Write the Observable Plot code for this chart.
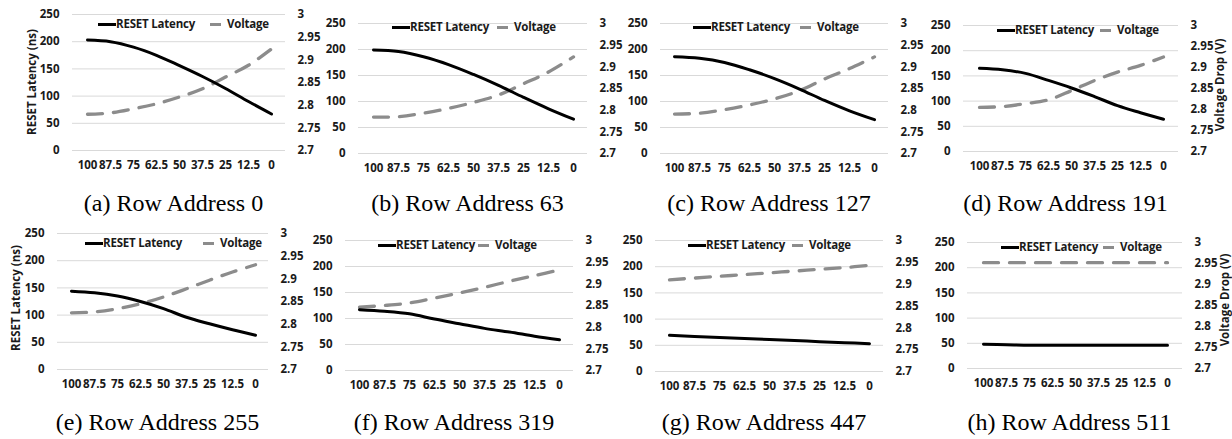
<!DOCTYPE html>
<html><head><meta charset="utf-8">
<script src="https://cdn.jsdelivr.net/npm/d3@7"></script>
<script src="https://cdn.jsdelivr.net/npm/@observablehq/plot@0.6"></script>
<style>
body{margin:0;background:#fff;}
#wrap{position:relative;width:1232px;height:439px;overflow:hidden;background:#fff;}
.panel{position:absolute;}
.cap{position:absolute;font-family:"Liberation Serif","Times New Roman",serif;font-size:24px;line-height:24px;color:#000;white-space:nowrap;transform:translateX(-50%);}
.legtxt{position:absolute;font-family:"Open Sans",sans-serif;font-weight:bold;font-size:11.5px;line-height:14px;color:#1a1a1a;white-space:nowrap;letter-spacing:-0.2px;}
.sw{position:absolute;height:3px;}
.atitle{position:absolute;font-family:"Open Sans",sans-serif;font-weight:bold;font-size:11.5px;line-height:14px;color:#1a1a1a;white-space:nowrap;transform:translate(-50%,-50%) rotate(-90deg);}
</style></head>
<body><div id="wrap"></div>
<script>
// ---- data ----
const rateLabels = ["100","87.5","75","62.5","50","37.5","25","12.5","0"];
const latencyTicks = [0,50,100,150,200,250];
const voltageTickLabels = ["2.7","2.75","2.8","2.85","2.9","2.95","3"];
const captions = ["(a) Row Address 0","(b) Row Address 63","(c) Row Address 127","(d) Row Address 191",
                  "(e) Row Address 255","(f) Row Address 319","(g) Row Address 447","(h) Row Address 511"];
const seriesNames = ["RESET Latency","Voltage"];
const leftTitle = "RESET Latency (ns)";
const rightTitle = "Voltage Drop (V)";

const latency_a = [203,200,190,175,156,136,114,90,67];
const voltage_a = [2.780,2.783,2.792,2.803,2.818,2.836,2.862,2.888,2.924];
const latency_b = [199,196,186,171,152,131,108,86,66];
const voltage_b = [2.784,2.785,2.793,2.804,2.818,2.835,2.861,2.888,2.923];
const latency_c = [186,183,175,161,144,124,102,82,65];
const voltage_c = [2.791,2.793,2.801,2.812,2.826,2.845,2.872,2.896,2.923];
const latency_d = [165,162,155,141,126,109,91,77,64];
const voltage_d = [2.805,2.807,2.814,2.823,2.845,2.869,2.889,2.905,2.925];
const latency_e = [144,141,135,125,112,96,84,73,63];
const voltage_e = [2.825,2.827,2.834,2.845,2.860,2.878,2.897,2.915,2.931];
const latency_f = [117,114,109,99,90,81,74,66,59];
const voltage_f = [2.846,2.850,2.856,2.867,2.879,2.892,2.906,2.919,2.932];
const latency_g = [69,67,65,63,61,59,57,55,53];
const voltage_g = [2.910,2.914,2.918,2.922,2.926,2.930,2.934,2.938,2.943];
const latency_h = [48,47,46,46,46,46,46,46,46];
const voltage_h = [2.952,2.952,2.952,2.952,2.952,2.952,2.952,2.952,2.952];

const latencies = [latency_a,latency_b,latency_c,latency_d,latency_e,latency_f,latency_g,latency_h];
const voltages  = [voltage_a,voltage_b,voltage_c,voltage_d,voltage_e,voltage_f,voltage_g,voltage_h];

// ---- layout (frame boxes: x1, x2, yTop, yBottom) ----
const frames = [[72,285,14,150],[358,587,23,153],[660,888,23,153],[963,1178,25,151],
                [57,268,233,369],[345,573,240,370],[655,883,240,371],[967,1182,242,368]];
const legendPos = [[98,210,24],[392,497,27],[693,800,27],[997,1100,30],
                   [85,203,243],[378,478,245],[688,792,245],[1001,1103,247]];
const captionBaseline = [211,211,211,211,430,430,430,430];
const leftTitles = {0:[32,82],4:[16,298]};
const rightTitles = {3:[1220,85],7:[1225,300]};

const LMAX = 250, VMIN = 2.7, VMAX = 3.0;
const toL = v => (v - VMIN) / (VMAX - VMIN) * LMAX;
const voltTickPos = voltageTickLabels.map(s => toL(+s));

const wrap = document.getElementById("wrap");
const ML = 50, MR = 45, MT = 6, MB = 30;

frames.forEach(([x1,x2,yT,yB], p) => {
  const rows = rateLabels.map((x,i) => ({x, lat: latencies[p][i], volt: voltages[p][i]}));
  const chart = Plot.plot({
    width: (x2-x1)+ML+MR, height: (yB-yT)+MT+MB,
    marginLeft: ML, marginRight: MR, marginTop: MT, marginBottom: MB,
    x: {type:"point", domain: rateLabels, padding: 0.5},
    y: {domain:[0,LMAX]},
    style: {fontFamily:"Open Sans, sans-serif", fontWeight:"bold", fontSize:"11.5px", color:"#1a1a1a", background:"transparent", overflow:"visible"},
    marks: [
      Plot.gridY(latencyTicks, {stroke:"#d9d9d9", strokeOpacity:1, strokeWidth:1}),
      Plot.axisY(latencyTicks, {anchor:"left", tickSize:0, tickPadding:13, label:null}),
      Plot.axisY(voltTickPos, {anchor:"right", tickSize:0, tickPadding:12, label:null,
        tickFormat: d => voltageTickLabels[Math.round(d/(LMAX/6))]}),
      Plot.axisX({tickSize:0, tickPadding:10, label:null}),
      Plot.line(rows, {x:"x", y: d => toL(d.volt), stroke:"#8c8c8c", strokeWidth:3.3, strokeDasharray:"15,11", curve:"catmull-rom"}),
      Plot.line(rows, {x:"x", y:"lat", stroke:"#000", strokeWidth:3, curve:"catmull-rom", strokeLinecap:"round"})
    ]
  });
  chart.classList.add("panel");
  chart.style.left = (x1-ML)+"px";
  chart.style.top = (yT-MT)+"px";
  wrap.appendChild(chart);

  // legend
  const [bx, gx, ly] = legendPos[p];
  const s1 = document.createElement("div"); s1.className="sw";
  s1.style.cssText += `left:${bx}px;top:${ly-1.5}px;width:18px;background:#000;`;
  const t1 = document.createElement("div"); t1.className="legtxt";
  t1.style.left = (bx+18)+"px"; t1.style.top = (ly-7)+"px"; t1.textContent = seriesNames[0];
  const s2 = document.createElement("div"); s2.className="sw";
  s2.style.cssText += `left:${gx}px;top:${ly-1.5}px;width:11px;background:#8c8c8c;`;
  const t2 = document.createElement("div"); t2.className="legtxt";
  t2.style.left = (gx+17)+"px"; t2.style.top = (ly-7)+"px"; t2.textContent = seriesNames[1];
  [s1,t1,s2,t2].forEach(e => wrap.appendChild(e));

  // caption
  const c = document.createElement("div"); c.className="cap";
  c.style.left = ((x1+x2)/2 - 5)+"px"; c.style.top = (captionBaseline[p]-20)+"px";
  c.textContent = captions[p];
  wrap.appendChild(c);

  if (leftTitles[p]) {
    const a = document.createElement("div"); a.className="atitle";
    a.style.left = leftTitles[p][0]+"px"; a.style.top = leftTitles[p][1]+"px"; a.textContent = leftTitle;
    wrap.appendChild(a);
  }
  if (rightTitles[p]) {
    const a = document.createElement("div"); a.className="atitle";
    a.style.left = rightTitles[p][0]+"px"; a.style.top = rightTitles[p][1]+"px"; a.textContent = rightTitle;
    wrap.appendChild(a);
  }
});
</script></body></html>
